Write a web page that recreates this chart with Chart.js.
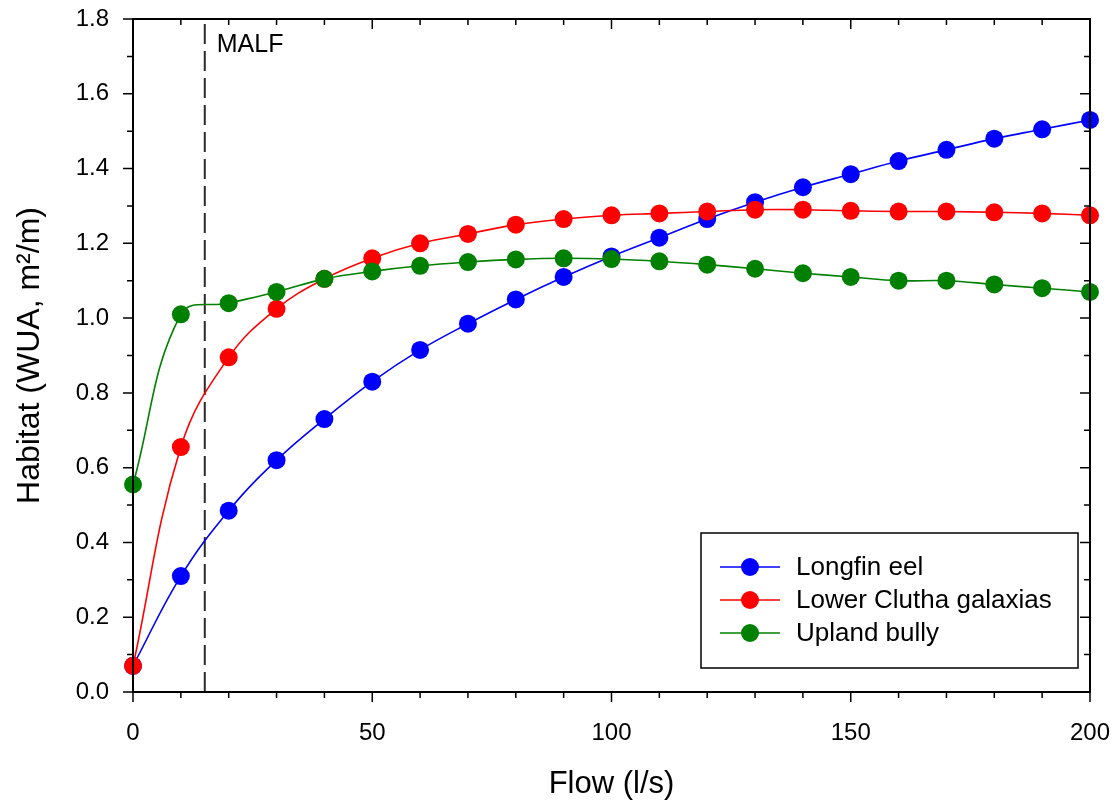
<!DOCTYPE html>
<html>
<head>
<meta charset="utf-8">
<script src="https://cdn.jsdelivr.net/npm/chart.js@4.4.1/dist/chart.umd.min.js"></script>
<style>
  html, body { margin: 0; padding: 0; background: #fff; }
  #wrap { width: 1117px; height: 803px; }
</style>
</head>
<body>
<div id="wrap"><canvas id="habChart" width="1117" height="803"></canvas></div>
<script>
// flow values (l/s)
const flow = [0, 10, 20, 30, 40, 50, 60, 70, 80, 90, 100, 110, 120, 130, 140, 150, 160, 170, 180, 190, 200]

const longfinEel = [0.07, 0.31, 0.485, 0.62, 0.73, 0.83, 0.915, 0.985, 1.05, 1.11, 1.165, 1.215, 1.265, 1.31, 1.35, 1.385, 1.42, 1.45, 1.48, 1.505, 1.53]
const lowerClutha = [0.07, 0.655, 0.895, 1.025, 1.105, 1.16, 1.2, 1.225, 1.25, 1.265, 1.275, 1.28, 1.285, 1.29, 1.29, 1.287, 1.285, 1.285, 1.283, 1.28, 1.275]
const uplandBully = [0.555, 1.01, 1.04, 1.07, 1.105, 1.125, 1.14, 1.15, 1.157, 1.16, 1.158, 1.152, 1.143, 1.132, 1.12, 1.11, 1.1, 1.1, 1.09, 1.08, 1.07]

const seriesNames = ["Longfin eel", "Lower Clutha galaxias", "Upland bully"]
const seriesColors = ["#0000ff", "#ff0000", "#008000"]

const malfFlow = 15
const malfLabel = "MALF"

const FONT = "'Liberation Sans', Arial, sans-serif"

function toPoints(vals) {
  return flow.map((f, i) => ({ x: f, y: vals[i] }))
}

function lineSet(label, vals, color) {
  return {
    label: label,
    data: toPoints(vals),
    borderColor: color,
    backgroundColor: color,
    borderWidth: 1.6,
    pointRadius: 9,
    pointHoverRadius: 9,
    pointBorderWidth: 0,
    tension: 0.4,
    clip: 12,
    fill: false
  }
}

// box, ticks (out on bottom/left, in on top/right), MALF text, legend
const framePlugin = {
  id: 'frame',
  afterDraw(chart) {
    const ctx = chart.ctx
    const a = chart.chartArea
    const xs = chart.scales.x
    const ys = chart.scales.y
    ctx.save()
    ctx.strokeStyle = '#000'
    ctx.lineWidth = 2
    ctx.strokeRect(a.left, a.top, a.right - a.left, a.bottom - a.top)

    ctx.lineWidth = 1.5
    ctx.beginPath()
    for (let v = 0; v <= 200; v += 10) {
      const px = xs.getPixelForValue(v)
      const len = v % 50 == 0 ? 10 : 6
      ctx.moveTo(px, a.bottom); ctx.lineTo(px, a.bottom + len)
      ctx.moveTo(px, a.top); ctx.lineTo(px, a.top + len)
    }
    for (let k = 0; k <= 18; k++) {
      const py = ys.getPixelForValue(k / 10)
      const len = k % 2 == 0 ? 10 : 6
      ctx.moveTo(a.left, py); ctx.lineTo(a.left - len, py)
      ctx.moveTo(a.right, py); ctx.lineTo(a.right - len, py)
    }
    ctx.stroke()

    // MALF label
    ctx.fillStyle = '#000'
    ctx.font = '25px ' + FONT
    ctx.textBaseline = 'middle'
    ctx.textAlign = 'left'
    ctx.fillText(malfLabel, xs.getPixelForValue(malfFlow) + 12, ys.getPixelForValue(1.73))

    // legend box
    const bx = 701, by = 533, bw = 377, bh = 135
    ctx.fillStyle = '#fff'
    ctx.fillRect(bx, by, bw, bh)
    ctx.lineWidth = 1.5
    ctx.strokeStyle = '#000'
    ctx.strokeRect(bx, by, bw, bh)
    ctx.font = '26px ' + FONT
    for (let i = 0; i < seriesNames.length; i++) {
      const cy = by + 34 + i * 33
      ctx.strokeStyle = seriesColors[i]
      ctx.lineWidth = 1.6
      ctx.beginPath()
      ctx.moveTo(bx + 19, cy); ctx.lineTo(bx + 79, cy)
      ctx.stroke()
      ctx.fillStyle = seriesColors[i]
      ctx.beginPath()
      ctx.arc(bx + 49, cy, 9, 0, Math.PI * 2)
      ctx.fill()
      ctx.fillStyle = '#000'
      ctx.fillText(seriesNames[i], bx + 95, cy + 1)
    }
    ctx.restore()
  }
}

const config = {
  type: 'line',
  data: {
    datasets: [
      lineSet(seriesNames[2], uplandBully, seriesColors[2]),
      lineSet(seriesNames[1], lowerClutha, seriesColors[1]),
      lineSet(seriesNames[0], longfinEel, seriesColors[0]),
      {
        label: malfLabel,
        data: [{ x: malfFlow, y: 0 }, { x: malfFlow, y: 1.8 }],
        borderColor: '#2a2a2a',
        borderWidth: 2,
        borderDash: [20, 7],
        pointRadius: 0,
        tension: 0
      }
    ]
  },
  plugins: [framePlugin],
  options: {
    responsive: false,
    animation: false,
    layout: { padding: { top: 19, right: 27, left: 0, bottom: 0 } },
    plugins: {
      legend: { display: false },
      tooltip: { enabled: false }
    },
    scales: {
      x: {
        type: 'linear',
        min: 0,
        max: 200,
        grid: { display: false, drawTicks: false },
        border: { display: false },
        ticks: {
          stepSize: 50,
          padding: 27,
          maxRotation: 0,
          color: '#000',
          font: { family: FONT, size: 24 }
        },
        title: {
          display: true,
          text: 'Flow (l/s)',
          color: '#000',
          padding: { top: 0, bottom: 0 },
          font: { family: FONT, size: 31 }
        },
        afterFit(scale) {
          scale.height = 111
          scale.paddingLeft = 0
          scale.paddingRight = 0
        }
      },
      y: {
        min: 0,
        max: 1.8,
        grid: { display: false, drawTicks: false },
        border: { display: false },
        ticks: {
          stepSize: 0.2,
          padding: 24,
          color: '#000',
          font: { family: FONT, size: 24 },
          callback: (v) => v.toFixed(1)
        },
        title: {
          display: true,
          text: 'Habitat (WUA, m²/m)',
          color: '#000',
          padding: { top: 11, bottom: 0 },
          font: { family: FONT, size: 32 }
        },
        afterFit(scale) {
          scale.width = 133
          scale.paddingTop = 0
          scale.paddingBottom = 0
        }
      }
    }
  }
}

const habChart = new Chart(document.getElementById('habChart'), config)
</script>
</body>
</html>
